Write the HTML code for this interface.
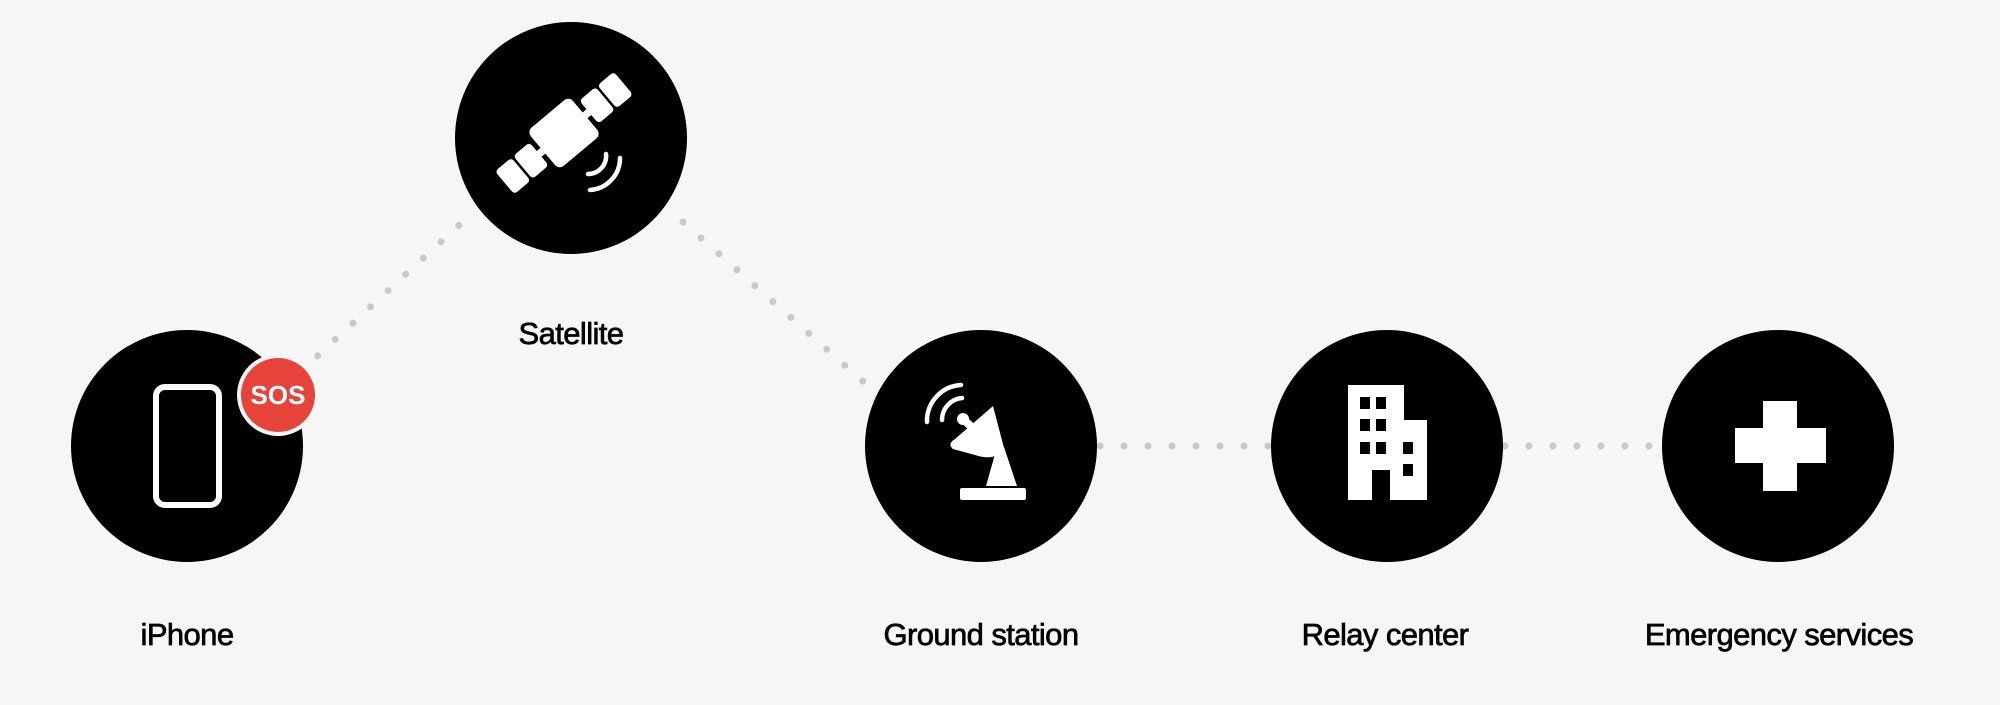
<!DOCTYPE html>
<html><head><meta charset="utf-8"><style>
html,body{margin:0;padding:0;background:#f6f6f6;}
svg{display:block}
text{font-family:"Liberation Sans",sans-serif;}
</style></head><body>
<svg width="2000" height="705" viewBox="0 0 2000 705" xmlns="http://www.w3.org/2000/svg">
<rect width="2000" height="705" fill="#f6f6f6"/>
<g stroke="#c9c9c9" stroke-width="7" stroke-linecap="round" stroke-dasharray="0 24" fill="none">
<line x1="300" y1="372" x2="470" y2="215"/>
<line x1="683" y1="222" x2="866" y2="384"/>
<line x1="1100" y1="446" x2="1272" y2="446"/>
<line x1="1505" y1="446" x2="1662" y2="446"/>
</g>
<g fill="#000">
<circle cx="187" cy="446" r="116"/>
<circle cx="571" cy="138" r="116"/>
<circle cx="981" cy="446" r="116"/>
<circle cx="1387" cy="446" r="116"/>
<circle cx="1778" cy="446" r="116"/>
</g>
<!-- phone -->
<rect x="156" y="387" width="63" height="118" rx="9" fill="none" stroke="#fff" stroke-width="6"/>
<!-- SOS -->
<circle cx="278" cy="395" r="41" fill="#f6f6f6"/>
<circle cx="278" cy="395" r="37" fill="#e6443a"/>
<text x="278" y="404" font-size="26" font-weight="bold" fill="#fff" text-anchor="middle">SOS</text>
<!-- satellite -->
<g transform="translate(564,133) rotate(-40) scale(1.25)" fill="#fff">
<rect x="-22" y="-20" width="44" height="40" rx="5"/>
<rect x="-62" y="-12" width="17" height="24" rx="3"/>
<rect x="-43" y="-12" width="17" height="24" rx="3"/>
<rect x="26" y="-12" width="17" height="24" rx="3"/>
<rect x="45" y="-12" width="17" height="24" rx="3"/>
<rect x="-28" y="-3" width="8" height="6"/>
<rect x="20" y="-3" width="8" height="6"/>
</g>
<g fill="none" stroke="#fff" stroke-width="4.5" stroke-linecap="round">
<path d="M 606 154 A 18 18 0 0 1 588 174"/>
<path d="M 620 158 A 32 32 0 0 1 590 190"/>
</g>
<!-- ground station -->
<g fill="#fff">
<rect x="960" y="488" width="66" height="12" rx="2"/>
<polygon points="986,486 1017,486 1004,447 997,447"/>
<path d="M 993 406 L 1004 448 Q 996 462 975 455 L 953 449 Q 947 444 955 439 Z"/>
<circle cx="963" cy="419" r="6"/>
<line x1="963" y1="419" x2="977" y2="432" stroke="#fff" stroke-width="8" stroke-linecap="round"/>
</g>
<g fill="none" stroke="#fff" stroke-width="4.5" stroke-linecap="round">
<path d="M 927 422 A 36 36 0 0 1 961 385"/>
<path d="M 942 420 A 22 22 0 0 1 962 398"/>
</g>
<!-- building -->
<g fill="#fff">
<path d="M1348 385 H1404 V420 H1427 V500 H1390 V470 H1372 V500 H1348 Z"/>
</g>
<g fill="#000">
<rect x="1360" y="397" width="10" height="12"/><rect x="1376" y="397" width="10" height="12"/>
<rect x="1360" y="419" width="10" height="12"/><rect x="1376" y="419" width="10" height="12"/>
<rect x="1360" y="442" width="10" height="12"/><rect x="1376" y="442" width="10" height="12"/><rect x="1403" y="442" width="10" height="12"/>
<rect x="1403" y="464" width="10" height="12"/>
</g>
<!-- cross -->
<g fill="#fff">
<rect x="1763" y="401" width="34" height="90"/>
<rect x="1735" y="428" width="91" height="35"/>
</g>
<g font-size="31" fill="#000" stroke="#000" stroke-width="0.7" text-anchor="middle" letter-spacing="-0.6">
<text x="187" y="645">iPhone</text>
<text x="571" y="344">Satellite</text>
<text x="981" y="645">Ground station</text>
<text x="1385" y="645">Relay center</text>
<text x="1779" y="645">Emergency services</text>
</g>
</svg>
</body></html>
